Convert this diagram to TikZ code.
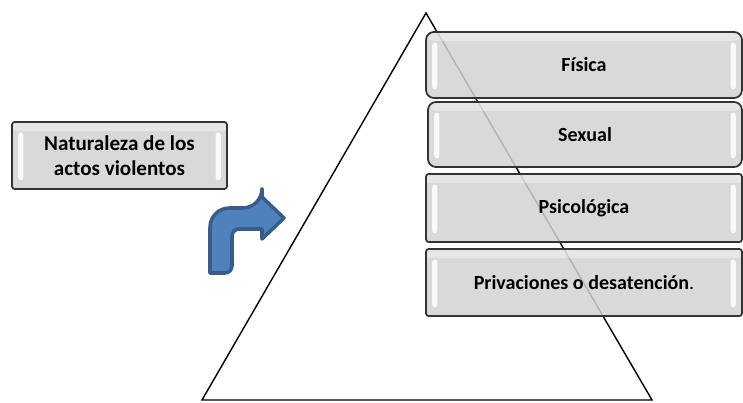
\documentclass[tikz,border=0pt]{standalone}
\usepackage{fontspec}
\setmainfont{Carlito}
\definecolor{boxgray}{RGB}{210,210,210}
\definecolor{arrowblue}{RGB}{79,129,189}
\definecolor{arrowedge}{RGB}{56,93,138}
\begin{document}
\begin{tikzpicture}[x=0.02cm,y=-0.02cm,
    bevel/.style={draw=black!80,line width=1pt,fill=boxgray,fill opacity=0.85,text opacity=1,
        font=\fontsize{11.4}{14}\selectfont\bfseries,align=center,inner sep=0pt,
        path picture={
            \fill[white,rounded corners=1.5pt] ([xshift=3.5pt,yshift=-6pt]path picture bounding box.north west) rectangle ([xshift=6.5pt,yshift=5pt]path picture bounding box.south west);
            \fill[white,rounded corners=1.5pt] ([xshift=-3.5pt,yshift=-6pt]path picture bounding box.north east) rectangle ([xshift=-6.5pt,yshift=5pt]path picture bounding box.south east);
            \fill[white,opacity=0.35] (path picture bounding box.north west) rectangle ([yshift=-5pt]path picture bounding box.north east);
        }}]
\useasboundingbox (0,0) rectangle (743,402);

\draw[line width=0.8pt] (426,13) -- (202,400) -- (652,400) -- cycle;

\node[bevel,rounded corners=4.5pt,minimum width=6.32cm,minimum height=1.32cm] (fisica) at (584,65) {Física};
\node[bevel,rounded corners=4.5pt,minimum width=6.28cm,minimum height=1.3cm] (sexual) at (585,134.5) {Sexual};
\node[bevel,rounded corners=1.5pt,minimum width=6.32cm,minimum height=1.36cm] (psico) at (584,208) {Psicológica};
\node[bevel,rounded corners=1.5pt,minimum width=6.32cm,minimum height=1.34cm] (priv) at (584,282.5) {Privaciones o desatención\mdseries.};

\node[bevel,rounded corners=1.5pt,minimum width=4.3cm,minimum height=1.34cm,font=\fontsize{12}{14.5}\selectfont\bfseries] (naturaleza) at (119.5,155.5) {Naturaleza de los\\actos violentos};

\draw[fill=arrowblue,draw=arrowedge,line width=2pt,line join=round]
    (210,273) [rounded corners=11pt] -- (210,208) -- (262,208) [sharp corners] -- (262,197) -- (284,218) -- (262,239) -- (262,229)
    [rounded corners=4pt] -- (232,229) -- (232,273) [sharp corners] -- cycle;
\end{tikzpicture}
\end{document}
